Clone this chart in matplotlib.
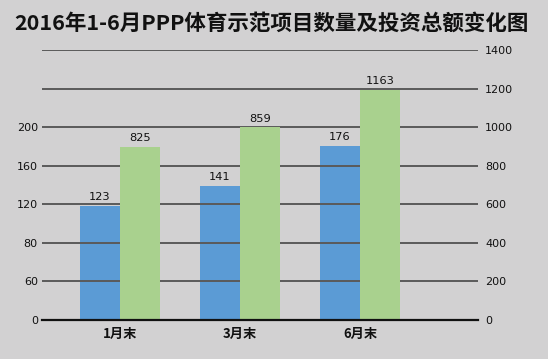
import matplotlib
matplotlib.use("Agg")
import matplotlib.pyplot as plt
import numpy as np

plt.rcParams['font.family'] = ['Noto Sans CJK SC', 'DejaVu Sans']

title = "2016年1-6月PPP体育示范项目数量及投资总额变化图"
categories = ["1月末", "3月末", "6月末"]
# labelled values
count_labels = ["123", "141", "176"]
invest_labels = ["825", "859", "1163"]
# bar heights as drawn in the picture
count_heights = [118, 139, 180]
invest_heights = [898, 1000, 1193]
left_ticks = [0, 40, 80, 120, 160, 200]
left_ticklabels = ["0", "60", "80", "120", "160", "200"]
right_ticks = [0, 200, 400, 600, 800, 1000, 1200, 1400]

bg = "#d2d1d2"
blue = "#5b9bd5"
green = "#a9d18e"
numfont = "DejaVu Sans"

W, H = 548, 359
fig = plt.figure(figsize=(W / 100, H / 100), dpi=100, facecolor=bg)
x0, x1 = 42, 478
y0, y1 = 319.7, 50
ax = fig.add_axes([x0 / W, 1 - y0 / H, (x1 - x0) / W, (y0 - y1) / H])
ax.set_facecolor(bg)
ax2 = ax.twinx()

x = np.arange(len(categories))
w = 1 / 3
ax.set_xlim(-0.65, 2.983)
ax.set_ylim(0, 280)
ax2.set_ylim(0, 1400)

for v in right_ticks[1:]:
    ax2.axhline(v, color="#5a5a5a", lw=1.4, zorder=0)

ax.bar(x - w / 2, count_heights, width=w, color=blue, zorder=3)
ax2.bar(x + w / 2, invest_heights, width=w, color=green, zorder=3)

for xi, h, lab in zip(x, count_heights, count_labels):
    ax.text(xi - w / 2, h + 4, lab, ha="center", va="bottom", fontsize=8.2,
            family=numfont, color="#111111")
for xi, h, lab in zip(x, invest_heights, invest_labels):
    ax2.text(xi + w / 2, h + 18, lab, ha="center", va="bottom", fontsize=8.2,
             family=numfont, color="#111111")

ax.set_yticks(left_ticks)
ax.set_yticklabels(left_ticklabels, family=numfont)
ax2.set_yticks(right_ticks)
ax2.set_yticklabels([str(v) for v in right_ticks], family=numfont)
ax.tick_params(axis="y", length=0, pad=3, labelsize=8, colors="#111111")
ax2.tick_params(axis="y", length=0, pad=5, labelsize=8, colors="#111111")

ax.set_xticks(x)
ax.set_xticklabels(categories, fontweight="bold", fontsize=9.5)
ax.tick_params(axis="x", length=0, pad=5, colors="#111111")

for a in (ax, ax2):
    for s in ("top", "left", "right", "bottom"):
        a.spines[s].set_visible(False)
ax2.axhline(0, color="#111111", lw=1.6, zorder=5, clip_on=False)

fig.text(14 / W, 1 - 23 / H, title, ha="left", va="center", fontsize=15.5,
         fontweight="bold", color="#111111")

fig.savefig("out.png", dpi=100, facecolor=bg)
